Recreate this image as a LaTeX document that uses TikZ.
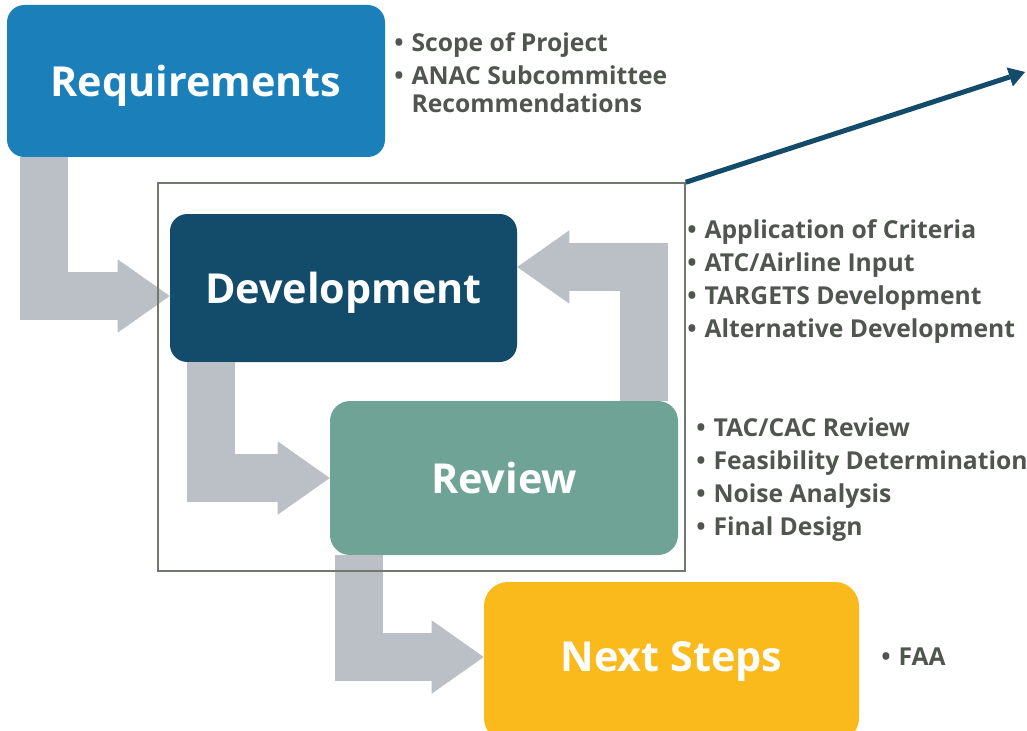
\documentclass[tikz,border=0pt]{standalone}
\usepackage{fontspec}
\setmainfont{Open Sans}
\usetikzlibrary{arrows.meta}

\definecolor{reqblue}{RGB}{27,128,186}
\definecolor{devblue}{RGB}{19,75,106}
\definecolor{revgreen}{RGB}{111,163,150}
\definecolor{nextyellow}{RGB}{251,186,27}
\definecolor{flowgray}{RGB}{187,191,198}
\definecolor{notegray}{RGB}{80,85,80}
\definecolor{framegray}{RGB}{114,119,112}

\newcommand{\itm}{\makebox[13pt][l]{•}}

\begin{document}
\begin{tikzpicture}[x=0.75pt, y=-0.75pt,
    stage/.style={rounded corners=13pt, text=white, inner sep=0pt, text depth=0pt,
        font=\fontsize{31}{37}\selectfont\bfseries},
    flow/.style={draw=flowgray, line width=36pt, line join=miter,
        -{Triangle[length=39pt, width=55pt, line width=0pt]}},
    notes/.style={text=notegray, align=left, inner sep=0pt, anchor=north west,
        font=\fontsize{18.5}{24.75}\selectfont\bfseries},
    frame/.style={draw=framegray, line width=1.1pt, inner sep=0pt}]
    % Frame of the picture
    \useasboundingbox (0,0) rectangle (1027,731);

    % Stages
    \node[stage, fill=reqblue, minimum width=283.5pt, minimum height=114pt] (req) at (196,81) {Requirements};
    \node[stage, fill=devblue, minimum width=260.25pt, minimum height=111pt] (dev) at (343.5,288) {Development};
    \node[stage, fill=revgreen, minimum width=261pt, minimum height=115.5pt, rounded corners=15pt] (rev) at (504,478) {Review};
    \node[stage, fill=nextyellow, minimum width=281.25pt, minimum height=120pt, rounded corners=18pt, text depth=7.5pt] (next) at (671.5,662) {Next Steps};

    % Gray flow arrows
    \draw[flow] ([xshift=27.75pt]req.south west) |- ([yshift=-6pt]dev.west);
    \draw[flow] ([xshift=30.75pt]dev.south west) |- (rev.west);
    \draw[flow] ([xshift=22pt]rev.south west) |- ([yshift=3.75pt]next.west);
    \draw[flow] ([xshift=-25.5pt]rev.north east) |- ([yshift=15.75pt]dev.east);

    % Loop frame and pointer
    \node[frame, minimum width=395.25pt, minimum height=291pt] (loop) at (421.5,377) {};
    \coordinate (far) at (1025,72);
    \draw[devblue, line width=3.75pt, -{Triangle[length=12pt, width=15pt, line width=0pt]}] (loop.north east) -- (far);

    % Notes
    \node[notes] (reqnotes) at (394,32) {\itm Scope of Project\\ \itm ANAC Subcommittee\\[-3.75pt] \hspace{13pt}Recommendations};
    \node[notes] (devnotes) at (687,219) {\itm Application of Criteria\\ \itm ATC/Airline Input\\ \itm TARGETS Development\\ \itm Alternative Development};
    \node[notes] (revnotes) at (696,417) {\itm TAC/CAC Review\\ \itm Feasibility Determination\\ \itm Noise Analysis\\ \itm Final Design};
    \node[notes, anchor=base west] (nextnotes) at (881,665) {\itm FAA};
\end{tikzpicture}
\end{document}
